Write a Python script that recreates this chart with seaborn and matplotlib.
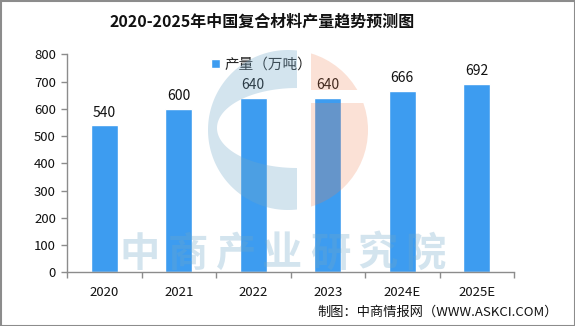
import numpy as np
import pandas as pd
import seaborn as sns
import matplotlib
matplotlib.use("Agg")
import matplotlib.pyplot as plt
from matplotlib.patches import Polygon, Circle, Rectangle
from matplotlib.transforms import IdentityTransform

# Data
years = ["2020", "2021", "2022", "2023", "2024E", "2025E"]
output = [540, 600, 640, 640, 666, 692]
series_name = "产量（万吨）"
title = "2020-2025年中国复合材料产量趋势预测图"
source = "制图：中商情报网（WWW.ASKCI.COM）"
watermark = "中商产业研究院"

sns.set_theme(style="white")
plt.rcParams["font.family"] = ["Noto Sans CJK SC", "DejaVu Sans"]

W, H = 575, 326
fig = plt.figure(figsize=(W / 100, H / 100), dpi=100)
ax = fig.add_axes([67 / W, 1 - 272.3 / H, (514 - 67) / W, (272.3 - 54.3) / H])

df = pd.DataFrame({"year": years, "value": output, "series": series_name})
sns.barplot(data=df, x="year", y="value", hue="series", palette=["#3d9cf0"],
            width=0.36, ax=ax, saturation=1)

ax.set_xlim(-0.5, len(years) - 0.5)
ax.set_ylim(0, 800)
ax.set_yticks(range(0, 801, 100))
ax.set_xlabel("")
ax.set_ylabel("")

axis_grey = "#8c8c8c"
for side in ["top", "right"]:
    ax.spines[side].set_visible(False)
for side in ["left", "bottom"]:
    ax.spines[side].set_color(axis_grey)
    ax.spines[side].set_linewidth(1.0)

ax.tick_params(axis="y", left=True, length=4, width=1, color=axis_grey,
               labelsize=9.5, labelcolor="#111111", pad=4)
ax.tick_params(axis="x", bottom=False, labelsize=9.5, labelcolor="#111111", pad=4)
ax.set_xticks(np.arange(-0.5, len(years), 1.0), minor=True)
ax.tick_params(axis="x", which="minor", bottom=True, length=4, width=1, color=axis_grey)

for c in ax.containers:
    ax.bar_label(c, labels=[str(v) for v in output], padding=4, fontsize=10, color="#111111")

leg = ax.legend(loc="upper center", bbox_to_anchor=(0.436, 1.045), frameon=False,
                handlelength=0.6, handleheight=0.6, handletextpad=0.3,
                fontsize=10.5)

fig.text(262 / W, 1 - 22 / H, title, ha="center", va="center", fontsize=11.5,
         fontweight="bold", color="#111111")
fig.text(558 / W, 1 - 312 / H, source, ha="right", va="center", fontsize=9.5,
         color="#111111")

# Logo: blue "C" ring and orange "i" pieces, semi-transparent over the bars
ident = IdentityTransform()
cx, cy, R = 288, 196, 80
t0 = np.degrees(np.arccos((297 - cx) / R))
t_out = np.radians(np.linspace(t0, 360 - t0, 120))
outer = np.column_stack([cx + R * np.cos(t_out), cy + R * np.sin(t_out)])
t_in = np.radians(np.linspace(270, 90, 120))
inner = np.column_stack([297 + 80 * np.cos(t_in), 198 + 40 * np.sin(t_in)])
ring = np.vstack([outer, inner])
fig.patches.append(Polygon(ring, closed=True, transform=ident,
                           facecolor=(111 / 255, 166 / 255, 200 / 255),
                           alpha=0.3, edgecolor="none", zorder=5))

orange = (238 / 255, 126 / 255, 78 / 255)
for (y0, y1) in [(236, 300), (100, 223)]:
    circ = Circle((cx, cy), R, transform=ident, facecolor=orange, alpha=0.23,
                  edgecolor="none", zorder=5)
    clip = Rectangle((311, y0), 100, y1 - y0, transform=ident)
    fig.patches.append(circ)
    circ.set_clip_path(clip)

# Watermark lettering along the bottom of the plot
for i, ch in enumerate(watermark):
    fig.text((140 + i * 47.5) / W, 1 - 254 / H, ch, ha="center", va="center",
             fontsize=29, fontweight="bold", color=(111 / 255, 166 / 255, 200 / 255),
             alpha=0.3, zorder=5)

# Outer frame
fig.patches.append(Rectangle((0.5, 0.5), W - 1, H - 1, transform=ident,
                             facecolor="none", edgecolor="#8c8c8c", linewidth=1.5,
                             zorder=10))

fig.savefig("out.png", dpi=100)
